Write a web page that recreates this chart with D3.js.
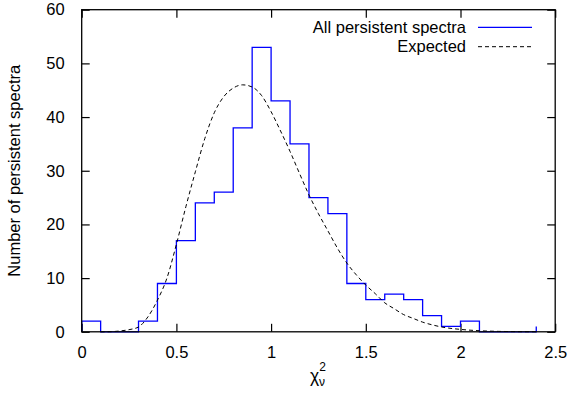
<!DOCTYPE html>
<html>
<head>
<meta charset="utf-8">
<script src="https://cdn.jsdelivr.net/npm/d3@7"></script>
<style>
  body { margin: 0; background: #fff; }
  text { font-family: "Liberation Sans", Arial, sans-serif; fill: #000; }
</style>
</head>
<body>
<div id="chart"></div>
<script>
// 1: DATA
// histogram: left bin edge -> count (last entry is the lone step at 2.4)
const binEdges = [0.0, 0.1, 0.2, 0.3, 0.4, 0.5, 0.6, 0.7, 0.8, 0.9, 1.0, 1.1,
                  1.2, 1.3, 1.4, 1.5, 1.6, 1.7, 1.8, 1.9, 2.0, 2.1, 2.2, 2.3, 2.4];
const binCounts = [2, 0, 0, 2, 9, 17, 24, 26, 38, 53, 43, 35,
                   25, 22, 9, 6, 7, 6, 3, 1, 2, 0, 0, 0, 1];

// expected curve, sampled by eye
const expX = [0.1, 0.15, 0.2, 0.25, 0.3, 0.35, 0.4, 0.45, 0.5, 0.55, 0.6, 0.65,
              0.7, 0.75, 0.8, 0.85, 0.9, 0.95, 1.0, 1.05, 1.1, 1.15, 1.2, 1.25,
              1.3, 1.35, 1.4, 1.45, 1.5, 1.55, 1.6, 1.65, 1.7, 1.75, 1.8, 1.85,
              1.9, 2.0, 2.1, 2.2, 2.3, 2.4];
const expY = [0, 0.02, 0.15, 0.4, 0.9, 2.8, 5.9, 10, 16.3, 23.3, 29.8, 36,
              40.8, 43.8, 45.4, 46, 45.6, 44, 41, 37.4, 33.6, 29.5, 25.5, 22,
              18.8, 15.6, 12.8, 10.6, 8.7, 7.1, 5.4, 4.3, 3.2, 2.5, 1.8, 1.3,
              0.9, 0.45, 0.2, 0.08, 0.03, 0.01];

const xTicks = [0, 0.5, 1, 1.5, 2, 2.5];
const yTicks = [0, 10, 20, 30, 40, 50, 60];
const seriesNames = ["All persistent spectra", "Expected"];

// 2: LAYOUT
const W = 571, H = 394;
const margin = { top: 9.7, right: 15.8, bottom: 62.2, left: 81.7 };
const width = W - margin.left - margin.right;
const height = H - margin.top - margin.bottom;

const svg = d3.select("#chart")
    .append("svg")
    .attr("width", W)
    .attr("height", H);

const g = svg.append("g")
    .attr("transform", `translate(${margin.left},${margin.top})`);

const x = d3.scaleLinear().domain([0, 2.5]).range([0, width]);
const y = d3.scaleLinear().domain([0, 60]).range([height, 0]);

// 3: AXES (ticks inward, mirrored)
const tickLen = 8;
const fontSize = 16.5;

function styleAxis(sel) {
    sel.select(".domain").remove();
    sel.selectAll(".tick line").attr("stroke", "#000").attr("stroke-width", 1.2);
}

g.append("g")
    .attr("transform", `translate(0,${height})`)
    .call(d3.axisBottom(x).tickValues(xTicks).tickSize(-tickLen).tickPadding(tickLen + 6)
        .tickFormat(d3.format("")))
    .call(styleAxis)
    .call(s => s.selectAll("text").attr("font-size", fontSize).attr("fill", "#000")
        .attr("font-family", "Liberation Sans, Arial, sans-serif"));

g.append("g")
    .call(d3.axisTop(x).tickValues(xTicks).tickSize(-tickLen).tickFormat(""))
    .call(styleAxis);

g.append("g")
    .call(d3.axisLeft(y).tickValues(yTicks).tickSize(-tickLen).tickPadding(tickLen + 9))
    .call(styleAxis)
    .call(s => s.selectAll("text").attr("font-size", fontSize).attr("fill", "#000")
        .attr("font-family", "Liberation Sans, Arial, sans-serif"));

g.append("g")
    .attr("transform", `translate(${width},0)`)
    .call(d3.axisRight(y).tickValues(yTicks).tickSize(-tickLen).tickFormat(""))
    .call(styleAxis);

// 4: HISTOGRAM (steps)
const histPts = [{ x: binEdges[0], y: 0 }].concat(
    binEdges.map((e, i) => ({ x: e, y: binCounts[i] })));

const stepLine = d3.line()
    .x(d => x(d.x))
    .y(d => y(d.y))
    .curve(d3.curveStepAfter);

g.append("path")
    .datum(histPts)
    .attr("fill", "none")
    .attr("stroke", "#0000ff")
    .attr("stroke-width", 1.3)
    .attr("d", stepLine);

// 5: EXPECTED CURVE
const expPts = expX.map((v, i) => ({ x: v, y: expY[i] }));

const curve = d3.line()
    .x(d => x(d.x))
    .y(d => y(d.y))
    .curve(d3.curveMonotoneX);

g.append("path")
    .datum(expPts)
    .attr("fill", "none")
    .attr("stroke", "#000")
    .attr("stroke-width", 1)
    .attr("stroke-dasharray", "4,3")
    .attr("d", curve);

// frame
g.append("rect")
    .attr("width", width)
    .attr("height", height)
    .attr("fill", "none")
    .attr("stroke", "#000")
    .attr("stroke-width", 1.3);

// 6: LEGEND
const legend = svg.append("g");
const legendRows = [
    { name: seriesNames[0], y: 27.3, stroke: "#0000ff", dash: null },
    { name: seriesNames[1], y: 46.7, stroke: "#000", dash: "4,3" }
];
legendRows.forEach(r => {
    legend.append("text")
        .attr("x", 466)
        .attr("y", r.y)
        .attr("dy", "0.35em")
        .attr("text-anchor", "end")
        .attr("font-size", fontSize)
        .text(r.name);
    legend.append("line")
        .attr("x1", 478).attr("x2", 532)
        .attr("y1", r.y).attr("y2", r.y)
        .attr("stroke", r.stroke)
        .attr("stroke-width", r.dash ? 1 : 1.2)
        .attr("stroke-dasharray", r.dash);
});

// 7: AXIS TITLES
svg.append("text")
    .attr("transform", `translate(20,${margin.top + height / 2}) rotate(-90)`)
    .attr("text-anchor", "middle")
    .attr("font-size", fontSize)
    .text("Number of persistent spectra");

const xt = svg.append("text")
    .attr("x", 310)
    .attr("y", 382)
    .attr("font-size", fontSize + 1);
xt.append("tspan").text("χ");
xt.append("tspan").attr("font-size", 12).attr("dy", -11).text("2");
xt.append("tspan").attr("font-size", 12).attr("dx", -7).attr("dy", 15).text("ν");
</script>
</body>
</html>
